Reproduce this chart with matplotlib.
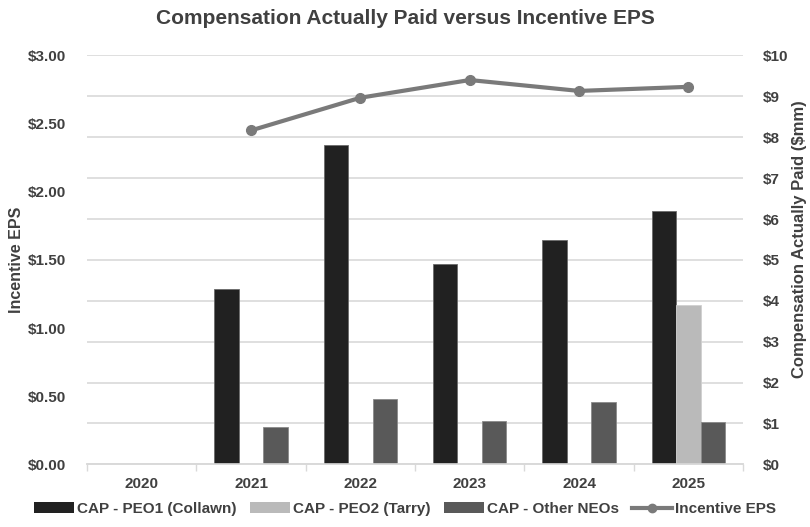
import numpy as np
import matplotlib
matplotlib.use("Agg")
import matplotlib.pyplot as plt
from matplotlib.patches import Patch
from matplotlib.lines import Line2D

plt.rcParams['font.family'] = ['Liberation Sans', 'DejaVu Sans']

years = ['2020', '2021', '2022', '2023', '2024', '2025']
cap_peo1 = [np.nan, 4.28, 7.80, 4.90, 5.49, 6.19]      # $mm
cap_peo2 = [np.nan, np.nan, np.nan, np.nan, np.nan, 3.89]
cap_other = [np.nan, 0.92, 1.59, 1.06, 1.53, 1.03]
incentive_eps = [np.nan, 2.45, 2.69, 2.82, 2.74, 2.77]

eps_ticks = [0, 0.5, 1.0, 1.5, 2.0, 2.5, 3.0]
cap_ticks = list(range(0, 11))

TEXT = '#404040'
GRID = '#d9d9d9'
C_PEO1 = '#212121'
C_PEO2 = '#bababa'
C_OTHER = '#595959'
C_LINE = '#7a7a7a'

fig = plt.figure(figsize=(8.1, 5.27), dpi=100)
ax = fig.add_axes([0.1074, 0.119, 0.81, 0.7757])  # bars, right-hand scale
ax2 = ax.twinx()                                   # EPS line, left-hand scale

x = np.arange(len(years))
w = 0.224
ax.bar(x - w, cap_peo1, w, color=C_PEO1, edgecolor='#6a6a6a', linewidth=0.6, zorder=3)
ax.bar(x, cap_peo2, w, color=C_PEO2, edgecolor='#d0d0d0', linewidth=0.6, zorder=3)
ax.bar(x + w, cap_other, w, color=C_OTHER, edgecolor='#8a8a8a', linewidth=0.6, zorder=3)

ax.set_xlim(-0.5, len(years) - 0.5)
ax.set_ylim(0, 10)
ax.set_yticks(cap_ticks)
ax.set_yticklabels([f'${v}' for v in cap_ticks])
ax.yaxis.tick_right()
ax.yaxis.set_label_position('right')
ax.grid(axis='y', color=GRID, linewidth=1.2, zorder=0)
ax.set_axisbelow(True)

ax.set_xticks(x)
ax.set_xticklabels(years)
ax.set_xticks(np.arange(-0.5, len(years)), minor=True)
ax.tick_params(axis='x', which='major', length=0, pad=9)
ax.tick_params(axis='x', which='minor', length=5, width=1, color=GRID)
ax.tick_params(axis='y', length=0, pad=14)
for lbl in ax.get_xticklabels() + ax.get_yticklabels():
    lbl.set_fontsize(11)
    lbl.set_fontweight('bold')
    lbl.set_color(TEXT)

ax.set_ylabel('Compensation Actually Paid ($mm)', fontsize=12, fontweight='bold',
              color=TEXT, rotation=90)
ax.yaxis.set_label_coords(1.075, 0.55)

ax2.plot(x, incentive_eps, color=C_LINE, linewidth=3, marker='o', markersize=7,
         zorder=4)
ax2.set_ylim(0, 3.0)
ax2.set_yticks(eps_ticks)
ax2.set_yticklabels([f'${v:.2f}' for v in eps_ticks])
ax2.yaxis.tick_left()
ax2.yaxis.set_label_position('left')
ax2.tick_params(axis='y', length=0, pad=15)
for lbl in ax2.get_yticklabels():
    lbl.set_fontsize(11)
    lbl.set_fontweight('bold')
    lbl.set_color(TEXT)
ax2.set_ylabel('Incentive EPS', fontsize=11.5, fontweight='bold', color=TEXT)
ax2.yaxis.set_label_coords(-0.096, 0.5)

for a in (ax, ax2):
    for side in ('top', 'left', 'right'):
        a.spines[side].set_visible(False)
    a.spines['bottom'].set_color(GRID)
    a.spines['bottom'].set_linewidth(1.2)

fig.suptitle('Compensation Actually Paid versus Incentive EPS', x=0.5, y=0.982,
             fontsize=15, fontweight='bold', color=TEXT)

handles = [
    Patch(facecolor=C_PEO1, edgecolor='none'),
    Patch(facecolor=C_PEO2, edgecolor='none'),
    Patch(facecolor=C_OTHER, edgecolor='none'),
    Line2D([0], [0], color=C_LINE, linewidth=3, marker='o', markersize=6),
]
labels = ['CAP - PEO1 (Collawn)', 'CAP - PEO2 (Tarry)', 'CAP - Other NEOs', 'Incentive EPS']
leg = fig.legend(handles, labels, loc='lower center', bbox_to_anchor=(0.5, -0.005),
                 ncol=4, frameon=False, fontsize=11, handlelength=2.6,
                 handleheight=0.7, handletextpad=0.2, columnspacing=0.9)
for t in leg.get_texts():
    t.set_color(TEXT)
    t.set_fontweight('bold')

fig.savefig('out.png', dpi=100)
